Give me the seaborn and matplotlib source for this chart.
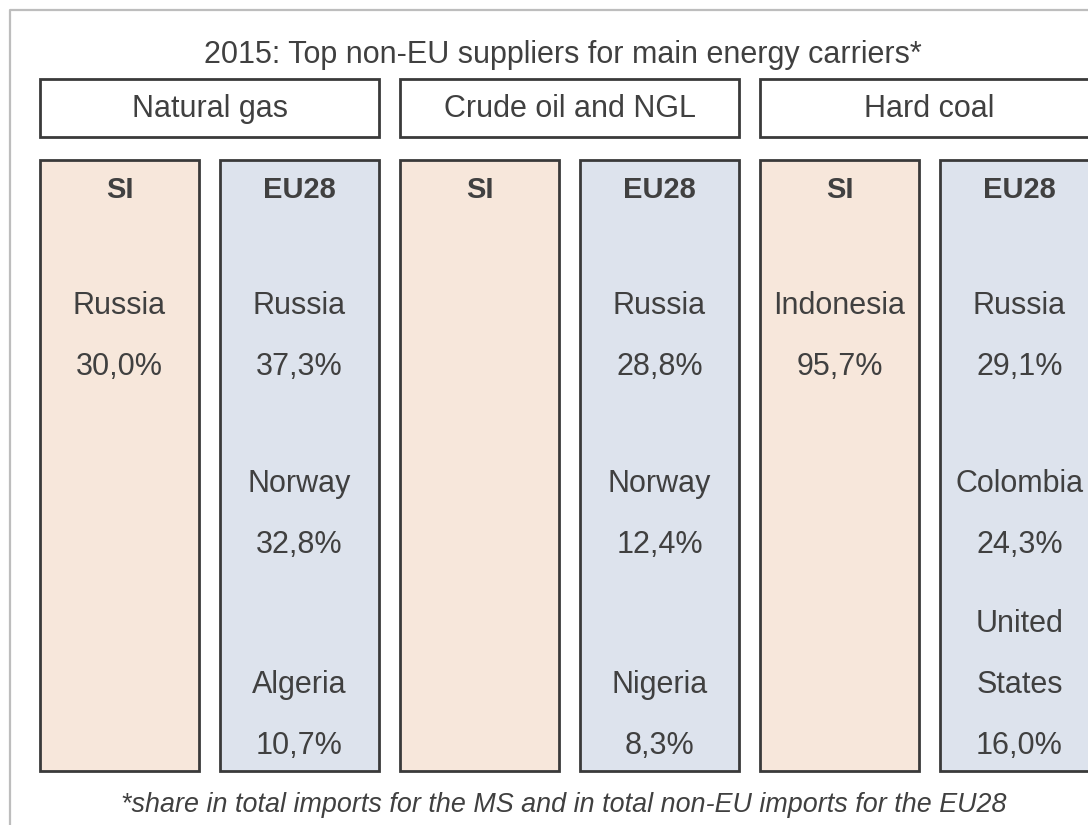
import textwrap

import matplotlib.pyplot as plt
import pandas as pd
import seaborn as sns
from matplotlib.lines import Line2D
from matplotlib.patches import Rectangle

# data
title = "2015: Top non-EU suppliers for main energy carriers*"
footnote = "*share in total imports for the MS and in total non-EU imports for the EU28"
fuels = ["Natural gas", "Crude oil and NGL", "Hard coal"]
areas = ["SI", "EU28"]

si_countries = [["Russia"], [], ["Indonesia"]]
si_shares = [[30.0], [], [95.7]]
eu_countries = [["Russia", "Norway", "Algeria"],
                ["Russia", "Norway", "Nigeria"],
                ["Russia", "Colombia", "United States"]]
eu_shares = [[37.3, 32.8, 10.7],
             [28.8, 12.4, 8.3],
             [29.1, 24.3, 16.0]]

# layout (pixels of a 1088x825 image)
W, H = 1088, 825
COL_TOP, COL_BOT = 160, 771
HEAD_TOP, HEAD_BOT = 79, 137
STEP = 180          # distance between column centres
X0 = 119.5          # centre of first column
BAR_W = 0.883
LINE = 61
SLOT_BOTTOMS = [367, 545, 746]

TXT = "#404040"
EDGE = "#3a3a3a"
palette = {"SI": "#FBE6D7", "EU28": "#DAE3F0"}

sns.set_theme(style="white")
plt.rcParams["font.family"] = ["Liberation Sans", "DejaVu Sans"]


def px2x(px):
    return (px - X0) / STEP


def share_txt(v):
    return f"{v:.1f}".replace(".", ",") + "%"


rows = []
for i, fuel in enumerate(fuels):
    for j, area in enumerate(areas):
        rows.append({"col": 2 * i + j, "area": area, "h": COL_BOT - COL_TOP})
df = pd.DataFrame(rows)

fig = plt.figure(figsize=(W / 100, H / 100), dpi=100)
ax = fig.add_axes([0, 0, 1, 1])

sns.barplot(data=df, x="col", y="h", hue="area", palette=palette, dodge=False,
            width=BAR_W, bottom=COL_TOP, edgecolor=EDGE, linewidth=2,
            legend=False, errorbar=None, ax=ax)

ax.set_xlim(px2x(0), px2x(W))
ax.set_ylim(H, 0)
ax.axis("off")

# outer frame (left and top only, the rest is cut off)
fig.add_artist(Line2D([10 / W, 10 / W, 1], [0, 1 - 10 / H, 1 - 10 / H],
                      color="#bdbdbd", lw=1.6))

ax.text(px2x(563), 55, title, ha="center", va="center", fontsize=22, color=TXT)

for i, fuel in enumerate(fuels):
    left = 2 * i - BAR_W / 2
    right = 2 * i + 1 + BAR_W / 2
    ax.add_patch(Rectangle((left, HEAD_TOP), right - left, HEAD_BOT - HEAD_TOP,
                           facecolor="white", edgecolor=EDGE, lw=2))
    ax.text((left + right) / 2, 109, fuel, ha="center", va="center",
            fontsize=22, color=TXT)

    cols = [(si_countries[i], si_shares[i]), (eu_countries[i], eu_shares[i])]
    for j, (names, vals) in enumerate(cols):
        x = 2 * i + j
        ax.text(x, 190, areas[j], ha="center", va="center", fontsize=21,
                fontweight="bold", color=TXT)
        for k, (name, v) in enumerate(zip(names, vals)):
            lines = textwrap.fill(name, 9).split("\n") + [share_txt(v)]
            y = SLOT_BOTTOMS[k]
            for line in reversed(lines):
                ax.text(x, y, line, ha="center", va="center", fontsize=22,
                        color=TXT)
                y -= LINE

ax.text(px2x(564), 805, footnote, ha="center", va="center", fontsize=19.4,
        style="italic", color=TXT)

fig.savefig("out.png", dpi=100)
